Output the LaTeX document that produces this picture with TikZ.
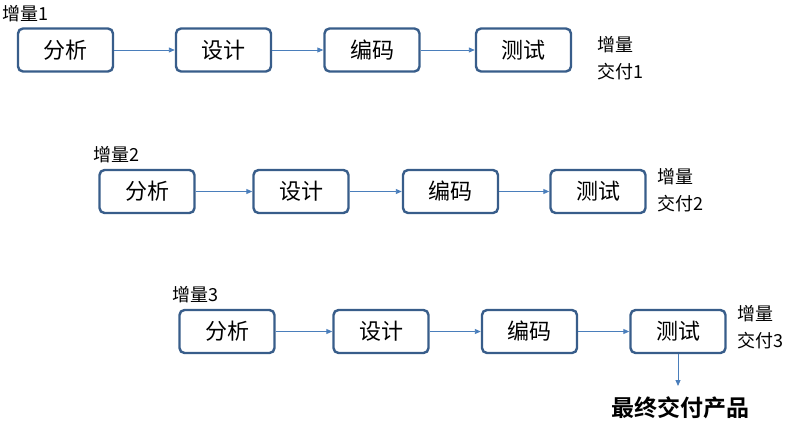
\documentclass[tikz,border=0pt]{standalone}
\usepackage{fontspec}
\setmainfont{Noto Sans CJK SC}
\newfontfamily\cjkbold{Noto Sans CJK SC Bold}
\usetikzlibrary{arrows.meta}
\definecolor{boxline}{HTML}{385D8A}
\definecolor{arrowc}{HTML}{4A7EBB}
\tikzset{
  stagebox/.style={draw=boxline, line width=2.4pt, rounded corners=5pt, fill=white,
    minimum width=95pt, minimum height=43pt, inner sep=0pt, font=\fontsize{22}{25}\selectfont},
  flow/.style={draw=arrowc, line width=0.9pt, -{Triangle[length=6pt,width=5pt]}},
  inclabel/.style={anchor=west, inner sep=0pt, font=\fontsize{18}{21}\selectfont},
  deliv/.style={anchor=west, inner sep=0pt, align=left, font=\fontsize{18}{27}\selectfont}
}
\begin{document}
\begin{tikzpicture}[x=1pt,y=-1pt]
\useasboundingbox (0,0) rectangle (787,434);
% row 1
\node[inclabel] (l1) at (2,14) {增量1};
\node[stagebox] (a1) at (65.5,50) {分析};
\node[stagebox] (b1) at (223.5,50) {设计};
\node[stagebox] (c1) at (372,50) {编码};
\node[stagebox] (d1) at (523.5,50) {测试};
\node[deliv] (e1) at (597,58) {增量\\交付1};
\draw[flow] (a1) -- (b1);
\draw[flow] (b1) -- (c1);
\draw[flow] (c1) -- (d1);
% row 2
\node[inclabel] (l2) at (93,155) {增量2};
\node[stagebox] (a2) at (147,191.5) {分析};
\node[stagebox] (b2) at (301,191.5) {设计};
\node[stagebox] (c2) at (450.5,191.5) {编码};
\node[stagebox] (d2) at (598,191.5) {测试};
\node[deliv] (e2) at (657,190) {增量\\交付2};
\draw[flow] (a2) -- (b2);
\draw[flow] (b2) -- (c2);
\draw[flow] (c2) -- (d2);
% row 3
\node[inclabel] (l3) at (172,295) {增量3};
\node[stagebox] (a3) at (227,331.5) {分析};
\node[stagebox] (b3) at (381,331.5) {设计};
\node[stagebox] (c3) at (529.5,331.5) {编码};
\node[stagebox] (d3) at (678,331.5) {测试};
\node[deliv] (e3) at (737,327) {增量\\交付3};
\draw[flow] (a3) -- (b3);
\draw[flow] (b3) -- (c3);
\draw[flow] (c3) -- (d3);
\node[anchor=center, inner sep=0pt, font=\cjkbold\fontsize{23}{26}\selectfont] (f) at (680,408) {最终交付产品};
\draw[flow] (d3.south) -- (d3.south |- 0,386);
\end{tikzpicture}
\end{document}
